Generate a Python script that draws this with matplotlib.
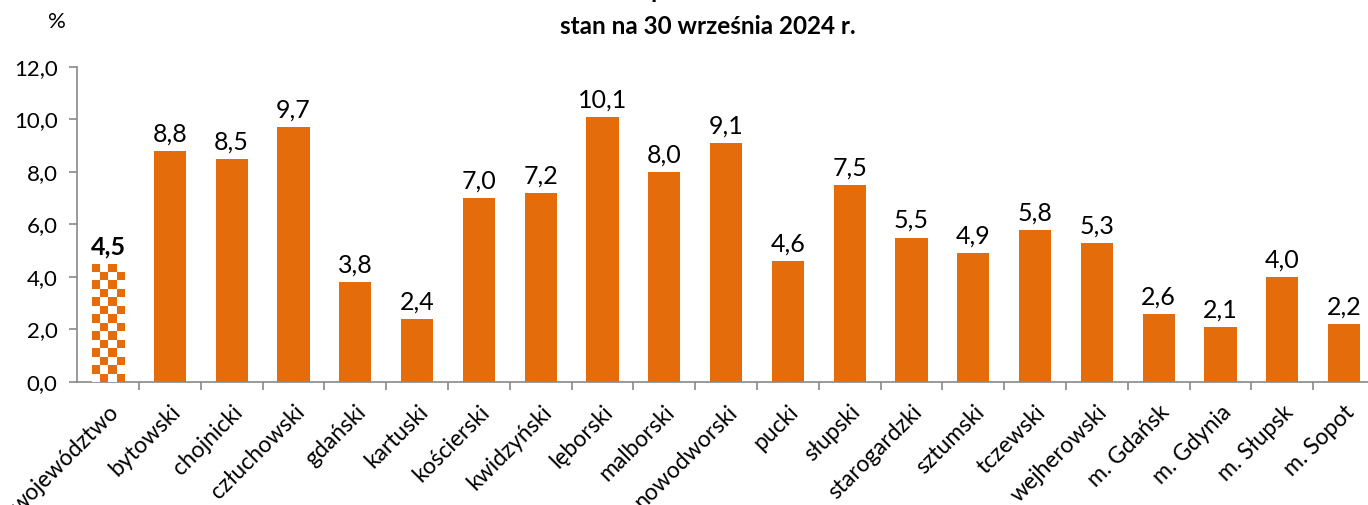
import numpy as np
import matplotlib
matplotlib.use("Agg")
import matplotlib.pyplot as plt
from matplotlib.colors import ListedColormap

# dane
kategorie = ["województwo", "bytowski", "chojnicki", "człuchowski", "gdański", "kartuski",
             "kościerski", "kwidzyński", "lęborski", "malborski", "nowodworski", "pucki",
             "słupski", "starogardzki", "sztumski", "tczewski", "wejherowski",
             "m. Gdańsk", "m. Gdynia", "m. Słupsk", "m. Sopot"]
stopa = [4.5, 8.8, 8.5, 9.7, 3.8, 2.4, 7.0, 7.2, 10.1, 8.0, 9.1, 4.6,
         7.5, 5.5, 4.9, 5.8, 5.3, 2.6, 2.1, 4.0, 2.2]
y_ticks = [0, 2, 4, 6, 8, 10, 12]

POMARANCZ = "#E46C0A"
SZARY = "#898989"

plt.rcParams['font.family'] = ['Lato', 'DejaVu Sans']

fig = plt.figure(figsize=(13.68, 5.05), dpi=100)
ax = fig.add_axes([0.0564, 0.2436, 0.9487, 0.6238])

x = np.arange(len(kategorie))
szer = 0.52
bars = ax.bar(x, stopa, width=szer, color=POMARANCZ, zorder=2)

# pierwszy słupek (województwo) w szachownicę
b0 = bars[0]
b0.set_facecolor("white")
nx, ny = 4, 14
szach = (np.indices((ny, nx)).sum(axis=0) % 2).astype(float)
im = ax.imshow(szach, cmap=ListedColormap(["white", POMARANCZ]),
               extent=(x[0] - szer / 2, x[0] + szer / 2, 0, stopa[0]),
               origin="lower", aspect="auto", interpolation="nearest", zorder=3)
im.set_clip_path(b0)

for i, v in enumerate(stopa):
    ax.annotate(f"{v:.1f}".replace(".", ","), (x[i], v), xytext=(0, 4),
                textcoords="offset points", ha="center", va="bottom",
                fontsize=18, fontweight="bold" if i == 0 else "normal", color="black")

ax.set_xlim(-0.5, len(kategorie) - 0.5)
ax.set_ylim(0, 12)
ax.set_yticks(y_ticks)
ax.set_yticklabels([f"{t:.1f}".replace(".", ",") for t in y_ticks], fontsize=16)

ax.set_xticks(x)
ax.set_xticklabels(kategorie, rotation=45, ha="right", rotation_mode="anchor", fontsize=16.5)
ax.tick_params(axis="x", length=0, pad=14)
ax.set_xticks(np.arange(0.5, len(kategorie) - 0.5), minor=True)
ax.tick_params(axis="x", which="minor", length=6, color=SZARY, width=1.2)
ax.tick_params(axis="y", length=6, color=SZARY, width=1.2, pad=8)

for s in ["top", "right"]:
    ax.spines[s].set_visible(False)
for s in ["left", "bottom"]:
    ax.spines[s].set_color(SZARY)
    ax.spines[s].set_linewidth(1.2)

fig.text(57 / 1368, 1 - 22 / 505, "%", fontsize=16, ha="center", va="center")
fig.text(708 / 1368, 1 + 10 / 505, "Stopa bezrobocia", fontsize=17.5, fontweight="bold",
         ha="center", va="center")
fig.text(708 / 1368, 1 - 27 / 505, "stan na 30 września 2024 r.", fontsize=17.5,
         fontweight="bold", ha="center", va="center")

fig.savefig("out.png", dpi=100)
